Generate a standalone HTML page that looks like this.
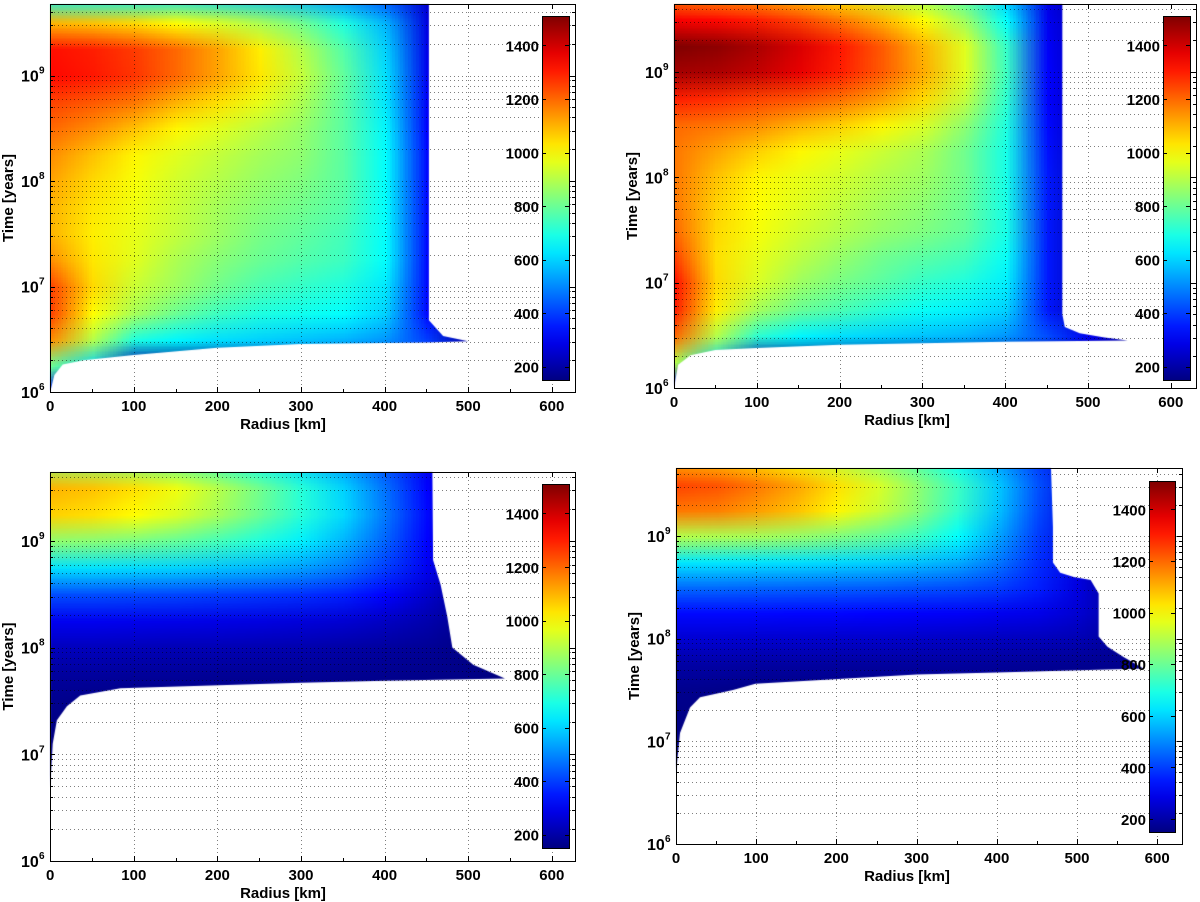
<!DOCTYPE html>
<html><head><meta charset="utf-8">
<style>
html,body{margin:0;padding:0;background:#fff;}
#wrap{position:relative;width:1200px;height:902px;overflow:hidden;}
#cv,#svg{position:absolute;left:0;top:0;}
text{font-family:"Liberation Sans",Arial,sans-serif;font-weight:bold;fill:#000;}
</style></head>
<body>
<div id="wrap">
<canvas id="cv" width="1200" height="902"></canvas>
<svg id="svg" width="1200" height="902" xmlns="http://www.w3.org/2000/svg"></svg>
</div>
<script>
// ---- data ----
const radii=[0,50,100,150,200,250,300,350,400,450,500,550,600];
const logTimes=[6,6.25,6.5,6.75,7,7.25,7.5,7.75,8,8.25,8.5,8.75,9,9.25,9.5,9.75];
const colorTicks=[200,400,600,800,1000,1200,1400];
const xTicks=[0,100,200,300,400,500,600];
const yDecades=[6,7,8,9];
const tempMin=150, tempMax=1510;

const tempTL=[
[300,150,150,150,150,150,150,150,150,150,150,150,150],
[800,600,200,150,150,150,150,150,150,150,150,150,150],
[1150,900,700,650,620,600,580,560,520,400,200,150,150],
[1250,1000,880,800,740,700,680,660,600,330,200,150,150],
[1250,1050,930,870,810,760,730,700,630,330,200,150,150],
[1150,1030,960,890,840,800,770,740,660,330,200,150,150],
[1100,1020,970,920,870,820,790,750,660,330,200,150,150],
[1100,1030,980,930,880,840,810,770,660,330,200,150,150],
[1120,1050,990,940,900,860,830,780,660,330,200,150,150],
[1150,1080,1010,960,920,880,850,780,660,330,200,150,150],
[1200,1150,1080,1010,960,910,860,780,650,320,200,150,150],
[1250,1220,1180,1100,1040,970,890,780,630,310,200,150,150],
[1330,1310,1270,1200,1120,1030,920,790,620,300,200,150,150],
[1320,1300,1260,1200,1120,1020,900,770,600,290,200,150,150],
[1100,1080,1050,1000,950,890,810,700,560,280,200,150,150],
[650,650,640,620,600,580,550,500,420,250,180,150,150]];
const tempTR=[
[300,150,150,150,150,150,150,150,150,150,150,150,150],
[900,600,200,150,150,150,150,150,150,150,150,150,150],
[1200,900,720,650,620,600,580,560,520,420,300,200,150],
[1300,1020,880,800,760,710,670,640,600,350,200,150,150],
[1320,1050,950,870,820,780,730,700,640,350,200,150,150],
[1250,1040,970,910,860,810,780,750,670,350,200,150,150],
[1200,1050,990,940,900,860,830,790,690,350,200,150,150],
[1180,1060,1000,960,920,880,850,800,690,350,200,150,150],
[1180,1080,1010,970,940,900,870,810,690,350,200,150,150],
[1180,1120,1060,1010,970,930,890,810,690,340,200,150,150],
[1200,1180,1150,1100,1060,1010,950,850,700,330,200,150,150],
[1300,1280,1250,1230,1190,1130,1050,920,720,320,200,150,150],
[1460,1450,1420,1370,1300,1220,1110,960,740,320,200,150,150],
[1510,1490,1450,1390,1310,1220,1100,960,730,310,200,150,150],
[1350,1330,1300,1250,1180,1100,1000,870,660,300,200,150,150],
[1150,1120,1100,1050,1000,930,850,750,570,280,180,150,150]];
const tempBL=[
[150,150,150,150,150,150,150,150,150,150,150,150,150],
[150,150,150,150,150,150,150,150,150,150,150,150,150],
[150,150,150,150,150,150,150,150,150,150,150,150,150],
[150,150,150,150,150,150,150,150,150,150,150,150,150],
[150,150,150,150,150,150,150,150,150,150,150,150,150],
[155,150,150,150,150,150,150,150,150,150,150,150,150],
[170,160,155,155,155,155,155,155,155,155,150,150,150],
[190,190,185,185,180,180,180,175,170,165,160,150,150],
[230,230,225,220,220,215,210,200,190,180,160,150,150],
[300,300,295,290,285,280,270,260,240,210,170,150,150],
[420,420,415,410,400,390,380,360,320,250,180,150,150],
[620,620,610,600,580,560,530,480,400,300,180,150,150],
[850,840,820,790,750,700,640,560,450,320,190,150,150],
[1060,1040,1000,950,880,800,710,610,480,330,190,150,150],
[1100,1080,1040,980,900,810,710,600,470,320,190,150,150],
[850,840,820,780,730,670,600,520,420,300,180,150,150]];
const tempBR=[
[150,150,150,150,150,150,150,150,150,150,150,150,150],
[150,150,150,150,150,150,150,150,150,150,150,150,150],
[150,150,150,150,150,150,150,150,150,150,150,150,150],
[150,150,150,150,150,150,150,150,150,150,150,150,150],
[155,150,150,150,150,150,150,150,150,150,150,150,150],
[160,155,150,150,150,150,150,150,150,150,150,150,150],
[170,165,160,160,160,160,160,160,160,160,155,155,150],
[200,200,195,195,190,190,190,190,185,180,175,170,150],
[260,260,255,255,250,250,245,240,235,230,220,190,150],
[330,330,330,325,325,320,315,310,300,290,260,200,150],
[460,460,455,450,445,440,430,420,400,360,280,170,150],
[630,630,625,620,610,600,580,550,480,380,280,150,150],
[900,890,880,860,830,790,740,660,540,400,280,150,150],
[1180,1170,1130,1080,1010,930,840,730,580,420,280,150,150],
[1250,1230,1180,1120,1040,950,850,740,590,430,280,150,150],
[1100,1080,1040,990,920,840,760,660,530,400,260,150,150]];

// body outlines (radius km, log10 time)
const edgeTL_r=[0,0,5,15,40,100,200,300,450,500,470,453,453];
const edgeTL_t=[9.8,6.0,6.16,6.26,6.30,6.35,6.42,6.455,6.47,6.48,6.53,6.68,9.8];
const edgeTR_r=[0,0,5,20,50,100,200,400,548,520,490,472,469,469];
const edgeTR_t=[9.8,6.0,6.22,6.31,6.36,6.38,6.41,6.44,6.45,6.48,6.52,6.58,6.7,9.8];
const edgeBL_r=[0,0,3,8,20,36,84,300,400,544,506,481,475,467,458,457];
const edgeBL_t=[9.8,6.68,7.1,7.32,7.45,7.55,7.62,7.67,7.69,7.71,7.84,8.0,8.29,8.59,8.82,9.8];
const edgeBR_r=[0,0,5,17.5,30,71,99,300,400,583,558,538,527,527,517,496,479,470,470,467];
const edgeBR_t=[9.8,6.69,7.08,7.33,7.43,7.5,7.56,7.65,7.67,7.71,7.82,7.92,8.02,8.44,8.57,8.6,8.64,8.74,9.09,9.8];

// ---- layout ----
const panels=[
 {id:'tl',temp:tempTL,er:edgeTL_r,et:edgeTL_t,x0:50.2,px:0.836,y6:392,dec:105.5,L:50,R:575,T:4,B:392,cx0:542,cx1:569,cy0:16,cy1:380,xl:283},
 {id:'tr',temp:tempTR,er:edgeTR_r,et:edgeTR_t,x0:674,px:0.828,y6:388,dec:105.3,L:674,R:1196,T:4,B:388,cx0:1163,cx1:1190,cy0:16,cy1:380,xl:907},
 {id:'bl',temp:tempBL,er:edgeBL_r,et:edgeBL_t,x0:50.2,px:0.836,y6:861,dec:106.7,L:50,R:575,T:472,B:861,cx0:542,cx1:569,cy0:484,cy1:848,xl:283},
 {id:'br',temp:tempBR,er:edgeBR_r,et:edgeBR_t,x0:676,px:0.802,y6:844,dec:102.7,L:676,R:1182,T:468,B:844,cx0:1149,cx1:1175,cy0:481,cy1:832,xl:907}
];
function jet(v){
  let t=(v-tempMin)/(tempMax-tempMin); t=Math.max(0,Math.min(1,t));
  const c=x=>Math.round(255*Math.max(0,Math.min(1,x)));
  return [c(1.5-Math.abs(4*t-3)),c(1.5-Math.abs(4*t-2)),c(1.5-Math.abs(4*t-1))];
}
const NS='http://www.w3.org/2000/svg';
const svg=document.getElementById('svg');
const ctx=document.getElementById('cv').getContext('2d');
function mk(tag,attrs,parent){const e=document.createElementNS(NS,tag);for(const k in attrs)e.setAttribute(k,attrs[k]);(parent||svg).appendChild(e);return e;}

panels.forEach(p=>{
  const xs=r=>p.x0+r*p.px;
  const ys=lt=>p.y6-(lt-6)*p.dec;
  const nr=logTimes.length,nc=radii.length;
  const off=document.createElement('canvas');off.width=nc;off.height=nr;
  const oc=off.getContext('2d');const img=oc.createImageData(nc,nr);
  for(let i=0;i<nr;i++)for(let j=0;j<nc;j++){
    const col=jet(p.temp[i][j]);const k=((nr-1-i)*nc+j)*4;
    img.data[k]=col[0];img.data[k+1]=col[1];img.data[k+2]=col[2];img.data[k+3]=255;}
  oc.putImageData(img,0,0);
  ctx.save();
  ctx.beginPath();ctx.rect(p.L,p.T,p.R-p.L,p.B-p.T);ctx.clip();
  ctx.beginPath();
  p.er.forEach((r,k)=>{const X=xs(r),Y=ys(p.et[k]);k?ctx.lineTo(X,Y):ctx.moveTo(X,Y);});
  ctx.closePath();ctx.clip();
  ctx.imageSmoothingEnabled=true;
  const dx=xs(radii[1])-xs(radii[0]), dy=ys(logTimes[0])-ys(logTimes[1]);
  ctx.drawImage(off,0.5,0.5,nc-1,nr-1,xs(radii[0]),ys(logTimes[nr-1]),dx*(nc-1),dy*(nr-1));
  ctx.restore();

  const g=mk('g',{});
  
  
  const grid=mk('g',{stroke:'#000','stroke-width':1,'stroke-dasharray':'1 3',opacity:0.5},g);
  
  
  xTicks.forEach(t=>{if(t>0){const X=Math.round(xs(t))+0.5;mk('line',{x1:X,x2:X,y1:p.T,y2:p.B},grid);}});
  yDecades.forEach(d=>{for(let k=1;k<=9;k++){const lt=d+Math.log10(k);const Y=Math.round(ys(lt))+0.5;if(Y>p.T&&Y<p.B)mk('line',{x1:p.L,x2:p.R,y1:Y,y2:Y},grid);}});
  const box=mk('rect',{x:p.L+0.5,y:p.T+0.5,width:p.R-p.L,height:p.B-p.T,fill:'none',stroke:'#000','stroke-width':1},g);
  
  
  xTicks.forEach(t=>{
    const X=Math.round(xs(t))+0.5;
    mk('line',{x1:X,x2:X,y1:p.B,y2:p.B-5,stroke:'#000'},g);
    mk('line',{x1:X,x2:X,y1:p.T,y2:p.T+5,stroke:'#000'},g);
    const tx=mk('text',{x:xs(t),y:p.B+19,'text-anchor':'middle','font-size':15},g);
    tx.textContent=t;
    
    
  });
  for(let t=50;t<600;t+=100){const X=Math.round(xs(t))+0.5;mk('line',{x1:X,x2:X,y1:p.B,y2:p.B-3,stroke:'#000'},g);}
  yDecades.forEach(d=>{
    for(let k=1;k<=9;k++){const Y=Math.round(ys(d+Math.log10(k)))+0.5;if(Y<p.T||Y>p.B)continue;
      const len=k==1?5:3;mk('line',{x1:p.L,x2:p.L+len,y1:Y,y2:Y,stroke:'#000'},g);mk('line',{x1:p.R,x2:p.R-len,y1:Y,y2:Y,stroke:'#000'},g);}
    const Y=ys(d);
    const tx=mk('text',{x:p.L-29,y:Y+6,'font-size':16},g);
    tx.textContent='10';
    
    
    const ex=mk('text',{x:p.L-11,y:Y-2,'font-size':10},g);
    ex.textContent=d;
    
    
  });
  const xt=mk('text',{x:p.xl,y:p.B+37,'text-anchor':'middle','font-size':15},g);
  xt.textContent='Radius [km]';
  
  
  const cy=(p.T+p.B)/2;
  const yt=mk('text',{x:0,y:0,'text-anchor':'middle','font-size':15,transform:`translate(${p.L-37},${cy}) rotate(-90)`},g);
  yt.textContent='Time [years]';
  
  
  const cb=mk('g',{},g);
  
  
  const gid='grad-'+p.id;
  const defs=mk('defs',{},cb);
  const lg=mk('linearGradient',{id:gid,x1:0,y1:1,x2:0,y2:0},defs);
  for(let s=0;s<=20;s++){const v=tempMin+(tempMax-tempMin)*s/20;const c=jet(v);
    mk('stop',{offset:(s/20),'stop-color':`rgb(${c[0]},${c[1]},${c[2]})`},lg);}
  mk('rect',{x:p.cx0+0.5,y:p.cy0+0.5,width:p.cx1-p.cx0,height:p.cy1-p.cy0,fill:`url(#${gid})`,stroke:'#000'},cb);
  const cs=v=>p.cy1-(v-tempMin)/(tempMax-tempMin)*(p.cy1-p.cy0);
  colorTicks.forEach(v=>{
    const Y=Math.round(cs(v))+0.5;
    mk('line',{x1:p.cx1,x2:p.cx1-4,y1:Y,y2:Y,stroke:'#000'},cb);
    mk('line',{x1:p.cx0,x2:p.cx0+4,y1:Y,y2:Y,stroke:'#000'},cb);
    const tx=mk('text',{x:p.cx0-3,y:cs(v)+6,'text-anchor':'end','font-size':15},cb);
    tx.textContent=v;
    
    
  });
});
</script>
</body></html>
